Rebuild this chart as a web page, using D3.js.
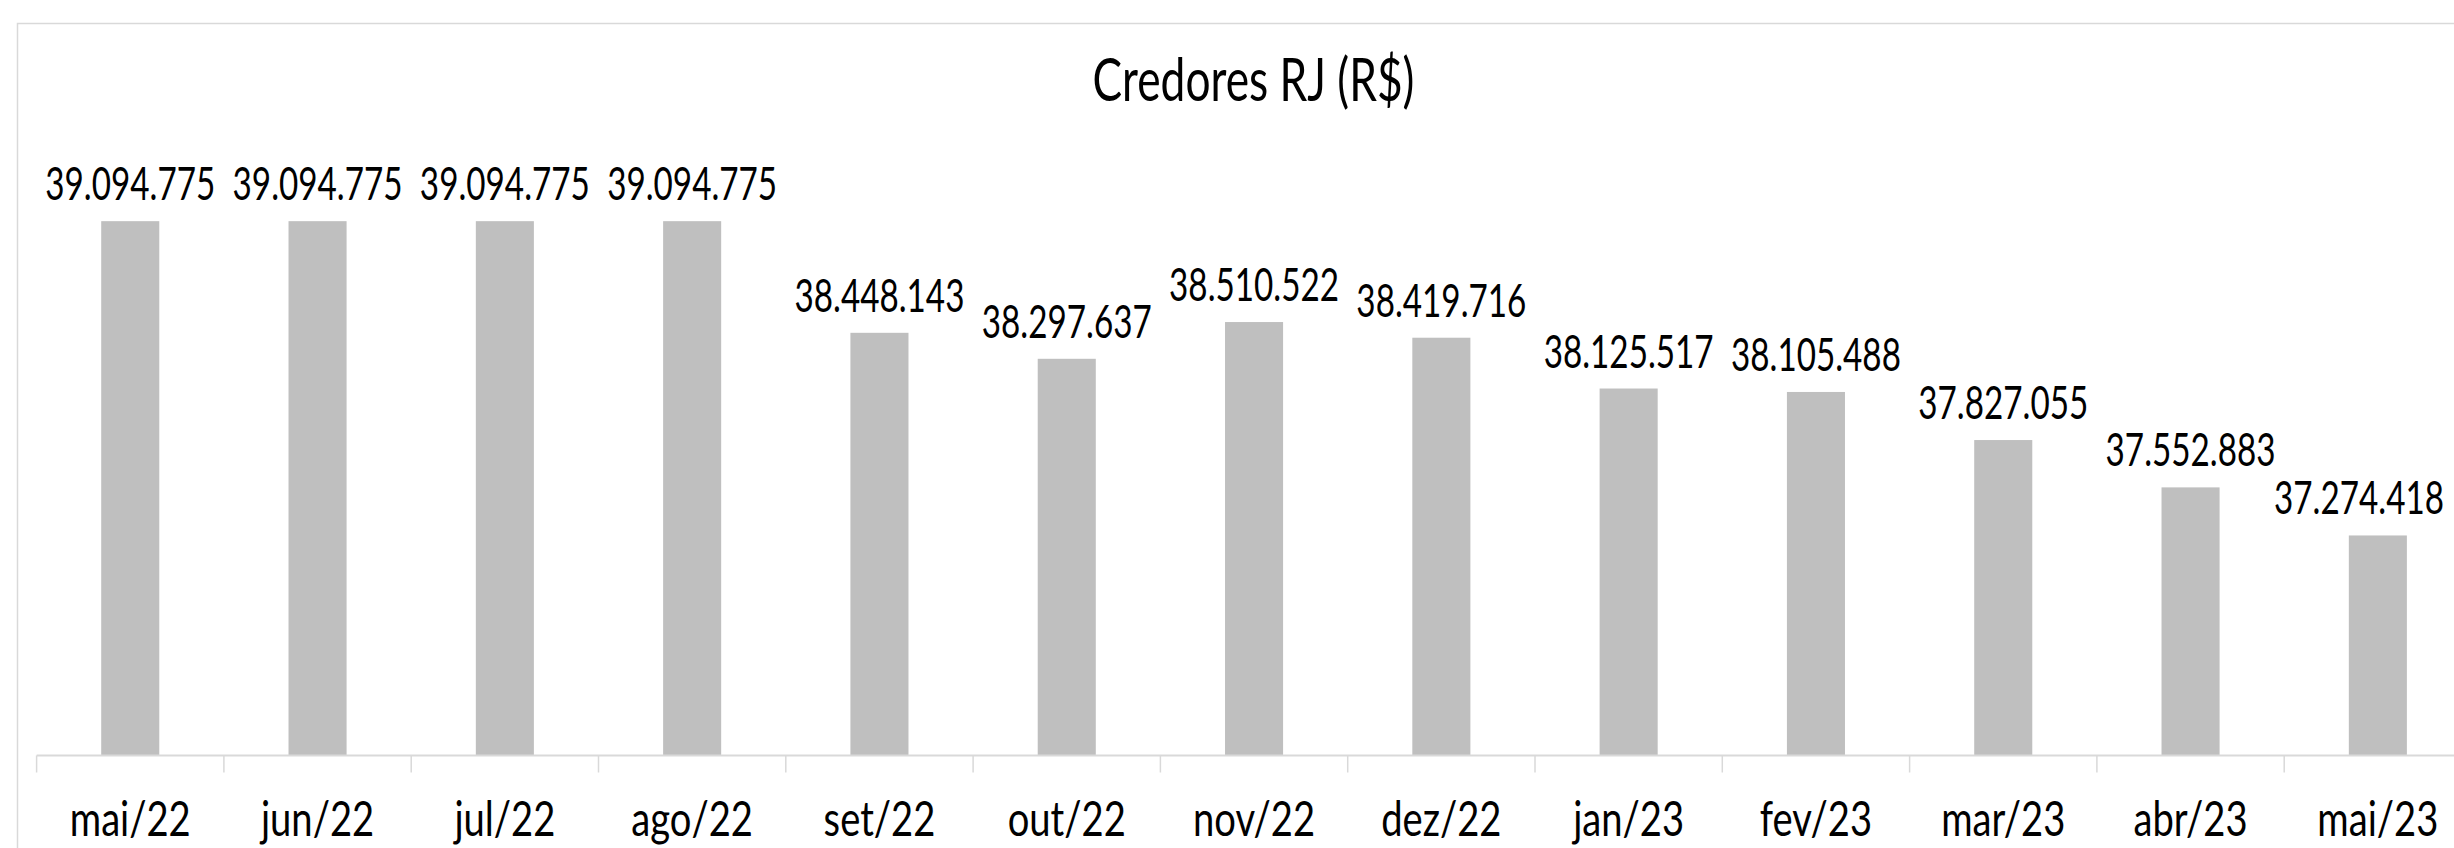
<!DOCTYPE html>
<html>
<head>
<meta charset="utf-8">
<script src="https://cdn.jsdelivr.net/npm/d3@7"></script>
<style>
  body { margin: 0; background: #fff; overflow: hidden; }
  text { font-family: Lato, "Liberation Sans", Arial, sans-serif; font-weight: 400; fill: #000; }
</style>
</head>
<body>
<div class="container"></div>
<script>
const w = 2454
const h = 848

const months = ["mai/22", "jun/22", "jul/22", "ago/22", "set/22", "out/22", "nov/22",
                "dez/22", "jan/23", "fev/23", "mar/23", "abr/23", "mai/23"]
const values = [39094775, 39094775, 39094775, 39094775, 38448143, 38297637, 38510522,
                38419716, 38125517, 38105488, 37827055, 37552883, 37274418]
const title = "Credores RJ (R$)"

const ptBR = d3.formatLocale({ decimal: ",", thousands: ".", grouping: [3], currency: ["R$", ""] })
const fmt = ptBR.format(",d")

const svg = d3.select(".container")
              .append("svg")
              .attr("width", w)
              .attr("height", h)

// the original font is a narrow one: measure a sample and squeeze to the same width
function squeezeFor(sample, size, target) {
  const t = svg.append("text").style("font-size", size + "px").text(sample)
  const len = t.node().getComputedTextLength()
  t.remove()
  return target / len
}
const squeezeNum = squeezeFor("39.094.775", 47, 170)
const squeezeTick = squeezeFor("mai/22", 48, 121)
const squeezeTitle = squeezeFor(title, 60, 322)

// chart area border
svg.append("rect")
    .attr("x", 17.5)
    .attr("y", 23.5)
    .attr("width", 2472)
    .attr("height", 900)
    .attr("fill", "none")
    .attr("stroke", "#d9d9d9")
    .attr("stroke-width", 1.5)

const xScale = d3.scaleBand()
                 .domain(months)
                 .range([36.6, 36.6 + 13 * 187.3])
                 .paddingInner(0.69)
                 .paddingOuter(0.345)

const yScale = d3.scaleLinear()
                 .domain([36000000, 39500000])
                 .range([755.5, 151.2])

const data = months.map((m, i) => ({ month: m, value: values[i] }))

svg.selectAll(".bar")
    .data(data)
    .enter()
    .append("rect")
      .attr("class", "bar")
      .attr("x", d => xScale(d.month))
      .attr("y", d => yScale(d.value))
      .attr("width", xScale.bandwidth())
      .attr("height", d => yScale.range()[0] - yScale(d.value))
      .attr("fill", "#bfbfbf")

// data labels, kept inside the visible area like the original
svg.selectAll(".label")
    .data(data)
    .enter()
    .append("text")
      .attr("class", "label")
      .attr("text-anchor", "middle")
      .style("font-size", "47px")
      .text(d => fmt(d.value))
      .attr("transform", function(d) {
        const half = this.getComputedTextLength() * squeezeNum / 2
        let cx = xScale(d.month) + xScale.bandwidth() / 2
        if (cx + half > w - 10) cx = w - 10 - half
        return `translate(${cx}, ${yScale(d.value) - 21}) scale(${squeezeNum}, 1)`
      })

// category axis (ticks between categories)
const xAxis = svg.append("g").attr("class", "x-axis")
const step = xScale.step()
const edge = m => xScale(m) - step * xScale.paddingInner() / 2

xAxis.append("line")
    .attr("x1", xScale.range()[0])
    .attr("x2", xScale.range()[1])
    .attr("y1", yScale.range()[0])
    .attr("y2", yScale.range()[0])
    .attr("stroke", "#d9d9d9")
    .attr("stroke-width", 2)

xAxis.selectAll(".tick")
    .data(months)
    .enter()
    .append("line")
      .attr("class", "tick")
      .attr("x1", d => edge(d))
      .attr("x2", d => edge(d))
      .attr("y1", yScale.range()[0])
      .attr("y2", yScale.range()[0] + 17)
      .attr("stroke", "#d9d9d9")
      .attr("stroke-width", 1.5)

xAxis.selectAll(".tick-label")
    .data(months)
    .enter()
    .append("text")
      .attr("class", "tick-label")
      .attr("text-anchor", "middle")
      .style("font-size", "48px")
      .attr("transform", d => `translate(${xScale(d) + xScale.bandwidth() / 2}, 836) scale(${squeezeTick}, 1)`)
      .text(d => d)

svg.append("text")
    .attr("class", "title")
    .attr("text-anchor", "middle")
    .style("font-size", "60px")
    .attr("transform", `translate(${17.5 + 2472 / 2}, 101) scale(${squeezeTitle}, 1)`)
    .text(title)
</script>
</body>
</html>
